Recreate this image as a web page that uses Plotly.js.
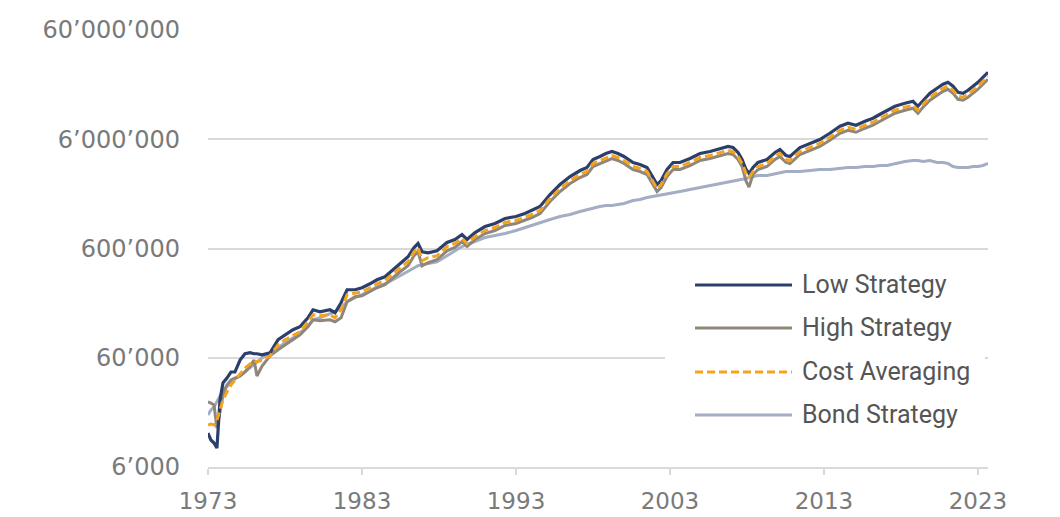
<!DOCTYPE html>
<html>
<head>
<meta charset="utf-8">
<script src="https://cdn.plot.ly/plotly-3.0.1.min.js"></script>
<style>html,body{margin:0;padding:0;background:#fff;}#chart{width:1060px;height:517px;}</style>
</head>
<body>
<div id="chart"></div>
<script>
const years = [1973.00,1973.19,1973.39,1973.58,1973.78,1973.97,1974.23,1974.49,1974.75,1975.08,1975.40,1975.73,1975.99,1976.18,1976.51,1977.03,1977.55,1978.00,1978.52,1978.97,1979.49,1979.82,1980.27,1980.92,1981.25,1981.64,1982.03,1982.55,1983.00,1983.52,1983.97,1984.49,1985.01,1985.47,1985.99,1986.38,1986.64,1986.90,1987.29,1987.87,1988.52,1989.04,1989.49,1989.82,1990.34,1990.99,1991.64,1992.29,1993.00,1993.58,1994.04,1994.56,1995.21,1995.86,1996.51,1997.16,1997.61,1998.00,1998.45,1998.84,1999.23,1999.62,2000.01,2000.60,2001.05,2001.51,2001.90,2002.16,2002.42,2002.81,2003.20,2003.65,2004.30,2004.95,2005.60,2006.25,2006.77,2007.09,2007.42,2007.68,2007.94,2008.13,2008.39,2008.71,2009.30,2009.82,2010.14,2010.53,2010.79,2011.44,2012.09,2012.73,2013.38,2014.04,2014.56,2015.08,2015.66,2016.18,2016.64,2017.09,2017.61,2018.26,2018.78,2019.10,2019.43,2019.88,2020.34,2020.73,2021.05,2021.38,2021.70,2022.03,2022.35,2022.68,2023.00,2023.32,2023.65];

const lowStrategy = [12280,10600,9950,8950,24620,35230,39140,44430,44430,57210,
65270,66660,65270,65270,63910,66660,87670,97400,108200,115300,
139300,164900,158200,164900,154900,191200,251500,251500,262300,285300,
310400,330800,383300,444300,504200,612800,666600,560200,548500,572100,
680800,725200,805800,725200,840500,953700,1015900,1128800,1177200,1254000,
1336200,1453800,1872000,2311200,2735400,3103800,3307800,3914400,4171200,4443000,
4634400,4443000,4171200,3675000,3523200,3307800,2678400,2311200,2514600,3169800,
3675000,3675000,3997800,4443000,4634400,4937400,5149200,5041800,4537800,3914400,
3169800,2913600,3307800,3675000,3914400,4537800,4833600,4260000,4171200,5041800,
5485200,5967000,6808200,7890000,8404800,8058000,8766600,9338400,10159200,11052600,
12024000,12810000,13362000,12024000,13644000,15816000,17574000,19122000,19944000,18330000,
16152000,15816000,16848000,18330000,19944000,22158000,24618000];

const highStrategy = [23600,23110,22160,13640,19120,27350,33780,37530,39140,40840,
44430,50420,57210,40840,50420,62580,71010,78900,87670,97400,
115300,133600,130800,133600,128100,139300,195300,217000,221600,241100,
262300,279400,323800,367500,417100,514900,560200,417100,444300,473300,
572100,612800,695400,625800,725300,823000,876700,974100,1015900,1082200,
1153100,1254600,1615500,1994500,2360600,2678500,2854500,3378000,3599600,3834100,
3999300,3834100,3599600,3171400,3040400,2854500,2311400,1994500,2170000,2735400,
3171400,3171400,3450000,3834100,3999300,4260800,4443600,4350900,3916000,3378000,
2480000,2190000,2854500,3171400,3378000,3916000,4171200,3676200,3599600,4350900,
4733500,5149300,5875200,6808800,7253000,6953800,7565100,8058700,8767000,9537900,
10376300,11054500,11530900,10376300,11774200,13648600,15165700,16501600,17210900,15818100,
13938600,13648600,14539200,15818100,17210900,19121500,21244400];

const costAveraging = [14540,14840,14540,16150,19940,24620,29140,33780,37530,42600,
48340,52590,56020,54850,57210,62580,78900,87670,95370,103760,
128100,148400,145400,148400,139300,164900,226300,236000,241100,262300,
285300,303900,352300,399800,453800,560200,612800,463400,493700,514900,
625800,666600,740700,666600,772600,876600,933800,1037600,1082100,1152700,
1228200,1336300,1720700,2124400,2514400,2853000,3040500,3598100,3834100,4084000,
4259900,4084000,3834100,3378100,3238500,3040500,2462000,2124400,2311400,2913700,
3378100,3378100,3674800,4084000,4259900,4538500,4733200,4634400,4171200,3598100,
2913700,2678400,3040500,3378100,3598100,4171200,4443000,3915800,3834100,4634400,
5042000,5484900,6258100,7252500,7725700,7407000,8058300,8583900,9338300,10159600,
11052500,11775000,12282400,11052500,12541600,14538100,16154100,17577000,18332600,16849000,
14847000,14538100,15486700,16849000,18332600,20367700,22629000];

const bondStrategy = [17950,19940,21250,23600,26780,30390,33080,35980,38330,40840,
44430,48340,51490,54850,60000,65270,74060,82300,91430,101600,
117700,133600,139300,151600,158200,172000,195300,212500,226300,246200,
267800,285300,310400,337800,367500,399800,417100,426000,435100,453800,
514900,572100,625800,652700,695300,756400,789000,823000,876700,933800,
974000,1037600,1105300,1177200,1228200,1308000,1364400,1393200,1453800,1484400,
1484400,1516200,1548600,1649400,1684800,1757400,1794600,1833000,1872000,1912200,
1953000,1994400,2080200,2169600,2263200,2360400,2410800,2461800,2514600,2568000,
2622600,2678400,2735400,2793600,2793600,2913600,2976000,3039000,3039000,3039000,
3103800,3169800,3169800,3237600,3307800,3307800,3378000,3378000,3450000,3450000,
3598200,3753000,3832800,3832800,3753000,3832800,3675000,3675000,3598200,3378000,
3307800,3307800,3307800,3378000,3378000,3450000,3598200];

const seriesNames = ["Low Strategy", "High Strategy", "Cost Averaging", "Bond Strategy"];
const yTickVals = [6000, 60000, 600000, 6000000, 60000000];
const yTickText = ["6\u2019000", "60\u2019000", "600\u2019000", "6\u2019000\u2019000", "60\u2019000\u2019000"];
const xTickVals = [1973, 1983, 1993, 2003, 2013, 2023];
const xTickText = ["1973", "1983", "1993", "2003", "2013", "2023"];

const colors = {low: "#2b3f6c", high: "#8f877a", cost: "#f5a21c", bond: "#a3adc3"};

const traces = [
  {x: years, y: bondStrategy, name: seriesNames[3], mode: "lines", line: {color: colors.bond, width: 3}},
  {x: years, y: highStrategy, name: seriesNames[1], mode: "lines", line: {color: colors.high, width: 3}},
  {x: years, y: lowStrategy, name: seriesNames[0], mode: "lines", line: {color: colors.low, width: 3.2}},
  {x: years, y: costAveraging, name: seriesNames[2], mode: "lines", line: {color: colors.cost, width: 3, dash: "8px,4px"}}
];

// custom legend (long line samples, white box)
const legendRows = [
  {name: seriesNames[0], color: colors.low, dash: "solid", y: 0.4165},
  {name: seriesNames[1], color: colors.high, dash: "solid", y: 0.3181},
  {name: seriesNames[2], color: colors.cost, dash: "dash", y: 0.2174},
  {name: seriesNames[3], color: colors.bond, dash: "solid", y: 0.1190}
];
const shapes = [{type: "rect", xref: "paper", yref: "paper", x0: 0.586, x1: 0.996, y0: 0.066, y1: 0.469,
  fillcolor: "#ffffff", line: {width: 0}, layer: "above"}];
const annotations = [];
legendRows.forEach(r => {
  shapes.push({type: "line", xref: "paper", yref: "paper", x0: 0.6244, x1: 0.7487, y0: r.y, y1: r.y,
    line: {color: r.color, width: 3, dash: r.dash === "dash" ? "8px,4px" : "solid"}, layer: "above"});
  annotations.push({xref: "paper", yref: "paper", x: 0.7585, y: r.y, xanchor: "left", yanchor: "middle",
    text: r.name, showarrow: false, font: {family: "Roboto, sans-serif", size: 25, color: "#555555"}});
});

const layout = {
  width: 1060, height: 517,
  margin: {l: 208, r: 72, t: 30, b: 50},
  paper_bgcolor: "#ffffff", plot_bgcolor: "#ffffff",
  showlegend: false,
  hovermode: false,
  xaxis: {
    type: "linear", range: [1973, 2023.65],
    tickvals: xTickVals, ticktext: xTickText,
    showgrid: false, zeroline: false,
    showline: true, linecolor: "#d9d9d9", linewidth: 2,
    ticks: "outside", ticklen: 6, tickwidth: 2, tickcolor: "#d9d9d9",
    ticklabelstandoff: 6,
    tickfont: {family: "DejaVu Sans, sans-serif", size: 23, color: "#7a7a7a"}
  },
  yaxis: {
    type: "log", range: [Math.log10(6000), Math.log10(60000000)],
    tickvals: yTickVals, ticktext: yTickText,
    showgrid: true, gridcolor: "#d9d9d9", gridwidth: 2,
    zeroline: false, showline: false, ticks: "",
    ticklabelstandoff: 27,
    tickfont: {family: "DejaVu Sans, sans-serif", size: 24, color: "#7a7a7a"}
  },
  shapes: shapes,
  annotations: annotations
};

Plotly.newPlot("chart", traces, layout, {displayModeBar: false, staticPlot: true});
</script>
</body>
</html>
